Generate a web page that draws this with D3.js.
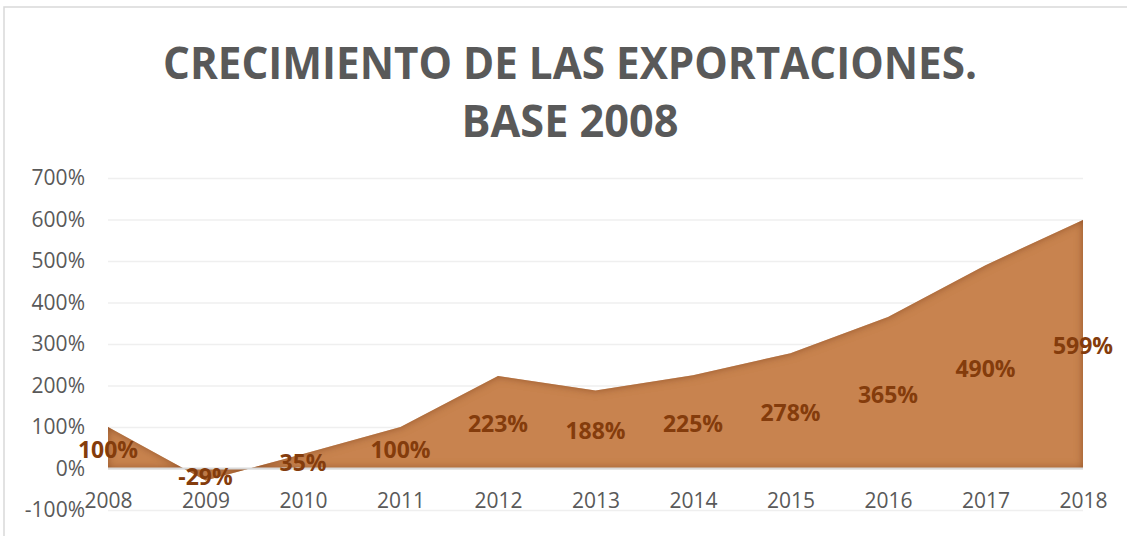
<!DOCTYPE html>
<html>
<head>
<meta charset="utf-8">
<script src="https://cdn.jsdelivr.net/npm/d3@7"></script>
<style>
  body { margin: 0; background: #fff; }
  svg { display: block; font-family: "Open Sans", sans-serif; }
</style>
</head>
<body>
<svg id="chart" width="1127" height="536"></svg>
<script>
// data
var years = ["2008","2009","2010","2011","2012","2013","2014","2015","2016","2017","2018"]
var growth = [1.00, -0.29, 0.35, 1.00, 2.23, 1.88, 2.25, 2.78, 3.65, 4.90, 5.99]
var yTicks = [-1, 0, 1, 2, 3, 4, 5, 6, 7]
var titleLines = ["CRECIMIENTO DE LAS EXPORTACIONES.", "BASE 2008"]

var svg = d3.select("#chart")
var grey = "#595959"
// plain hyphen for negatives, like the original
var pct = d3.formatLocale({decimal: ".", thousands: ",", grouping: [3], currency: ["", ""], minus: "-"}).format(".0%")

// chart frame (only top and left edges show in the picture)
svg.append("rect")
  .attr("x", 4).attr("y", 7)
  .attr("width", 1200).attr("height", 600)
  .attr("fill", "none")
  .attr("stroke", "#d9d9d9")
  .attr("stroke-width", 1.5)

// title
svg.selectAll(".title")
  .data(titleLines)
  .enter()
  .append("text")
    .attr("class", "title")
    .attr("x", 570)
    .attr("y", function(d,i){ return 61 + i*58 })
    .attr("text-anchor", "middle")
    .attr("dominant-baseline", "central")
    .style("font-size", "45px")
    .style("font-weight", "bold")
    .style("fill", grey)
    .text(function(d){ return d })
    .each(function(d,i){
      if (i == 0) d3.select(this).attr("textLength", 814).attr("lengthAdjust", "spacingAndGlyphs")
      else d3.select(this).attr("textLength", 217).attr("lengthAdjust", "spacingAndGlyphs")
    })

var x = d3.scalePoint().domain(years).range([108, 1083])
var y = d3.scaleLinear().domain([-1, 7]).range([510, 178])

// gridlines
svg.append("g")
  .attr("transform", "translate(108,0)")
  .call(d3.axisLeft(y).tickValues(yTicks).tickSize(-975).tickFormat(""))
  .call(function(g){
    g.select(".domain").remove()
    g.selectAll("line").attr("stroke", "#efefef").attr("stroke-width", 1.5)
  })

// y labels
svg.append("g")
  .attr("transform", "translate(108,0)")
  .call(d3.axisLeft(y).tickValues(yTicks).tickSize(0).tickPadding(23).tickFormat(pct))
  .call(function(g){
    g.select(".domain").remove()
    g.selectAll("text")
      .style("font-family", "Open Sans")
      .style("font-size", "21px")
      .style("fill", grey)
  })

// area with inner shadow
var defs = svg.append("defs")
var f = defs.append("filter").attr("id", "inner")
  .attr("x", "-5%").attr("y", "-20%").attr("width", "110%").attr("height", "140%")
f.append("feFlood").attr("flood-color", "#8f4e22").attr("result", "c")
f.append("feComposite").attr("in", "c").attr("in2", "SourceAlpha").attr("operator", "out").attr("result", "inv")
f.append("feGaussianBlur").attr("in", "inv").attr("stdDeviation", 4).attr("result", "blur")
f.append("feComposite").attr("in", "blur").attr("in2", "SourceAlpha").attr("operator", "in").attr("result", "shadow")
var m = f.append("feMerge")
m.append("feMergeNode").attr("in", "SourceGraphic")
m.append("feMergeNode").attr("in", "shadow")

var area = d3.area()
  .x(function(d,i){ return x(years[i]) })
  .y0(y(0))
  .y1(function(d){ return y(d) })

svg.append("path")
  .datum(growth)
  .attr("d", area)
  .attr("fill", "#c8834f")
  .attr("filter", "url(#inner)")

// zero axis line
svg.append("line")
  .attr("x1", x(years[0])).attr("x2", x(years[years.length-1]))
  .attr("y1", y(0)).attr("y2", y(0))
  .attr("stroke", "#d9d9d9")
  .attr("stroke-width", 2)

// x labels sit on the 0% line
svg.append("g")
  .attr("transform", "translate(0," + y(0) + ")")
  .call(d3.axisBottom(x).tickSize(0).tickPadding(25))
  .call(function(g){
    g.select(".domain").remove()
    g.selectAll("text")
      .style("font-family", "Open Sans")
      .style("font-size", "21px")
      .style("fill", grey)
  })

// data labels, halfway between value and zero
svg.selectAll(".lbl")
  .data(growth)
  .enter()
  .append("text")
    .attr("class", "lbl")
    .attr("x", function(d,i){ return x(years[i]) })
    .attr("y", function(d){ return y(d/2) + 1 })
    .attr("text-anchor", "middle")
    .attr("dominant-baseline", "central")
    .style("font-size", "23px")
    .style("font-weight", "bold")
    .style("fill", "#843c0c")
    .text(function(d){ return pct(d) })
</script>
</body>
</html>
